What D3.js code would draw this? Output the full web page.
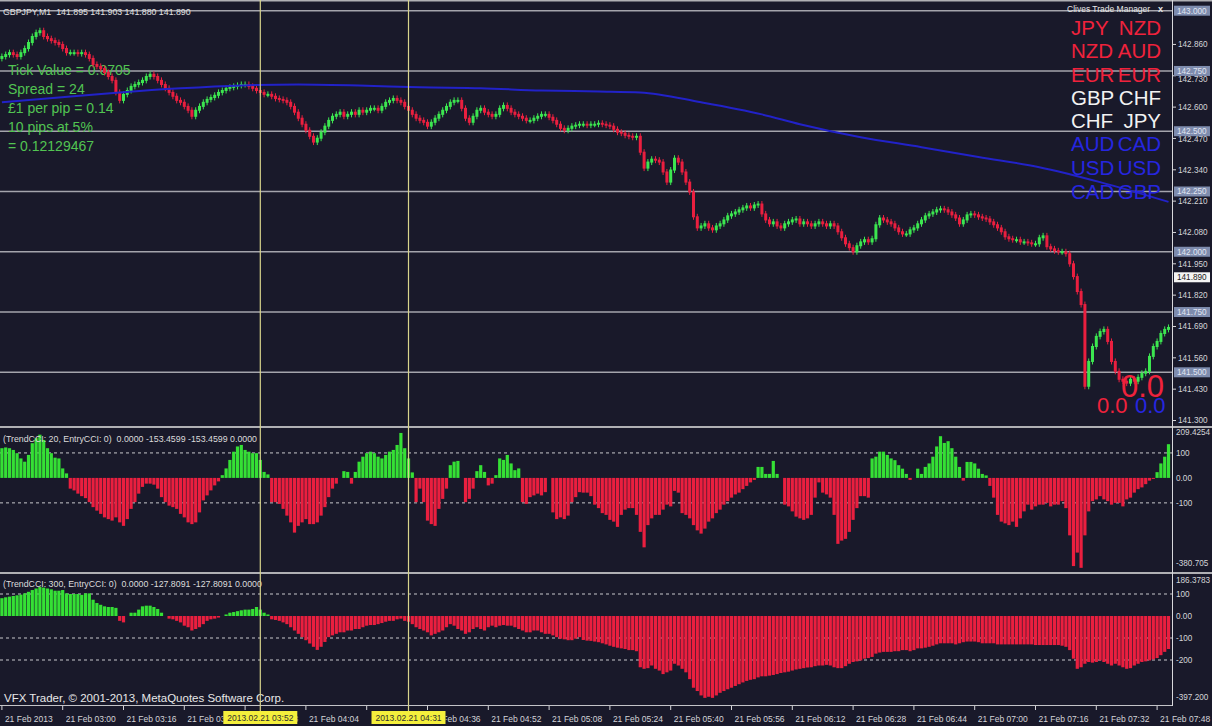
<!doctype html>
<html>
  <head>
    <title>GBPJPY,M1</title>
    <style>
      body { margin: 0; background: #19192a; }
      svg { display: block; font-family: "Liberation Sans", Arial, sans-serif; }
    </style>
  </head>
  <body>
    <svg id="chart" width="1212" height="726"></svg>

    <script src="https://d3js.org/d3.v7.min.js"></script>
    <script>
      // one-minute closes, 02:44 .. 07:51
      const closes = [
        142.810,142.818,142.826,142.818,142.810,142.826,142.843,142.868,142.893,142.909,
        142.917,142.893,142.884,142.876,142.868,142.860,142.843,142.826,142.826,142.826,
        142.822,142.826,142.818,142.802,142.777,142.769,142.760,142.744,142.727,142.711,
        142.661,142.628,142.653,142.669,142.686,142.694,142.702,142.711,142.727,142.736,
        142.727,142.711,142.694,142.678,142.661,142.645,142.628,142.620,142.603,142.587,
        142.562,142.587,142.603,142.620,142.632,142.640,142.649,142.661,142.669,142.678,
        142.682,142.686,142.690,142.694,142.694,142.686,142.678,142.669,142.661,142.653,
        142.653,142.645,142.636,142.632,142.628,142.620,142.603,142.579,142.554,142.529,
        142.504,142.479,142.455,142.471,142.496,142.521,142.545,142.562,142.570,142.579,
        142.562,142.570,142.579,142.570,142.587,142.579,142.587,142.595,142.595,142.587,
        142.603,142.620,142.628,142.636,142.628,142.620,142.603,142.587,142.570,142.554,
        142.545,142.537,142.521,142.537,142.554,142.570,142.587,142.603,142.620,142.628,
        142.628,142.595,142.554,142.537,142.562,142.587,142.595,142.579,142.570,142.562,
        142.570,142.595,142.607,142.595,142.579,142.570,142.562,142.554,142.545,142.545,
        142.554,142.562,142.570,142.570,142.558,142.545,142.529,142.512,142.504,142.512,
        142.521,142.525,142.529,142.529,142.525,142.529,142.529,142.533,142.529,142.525,
        142.521,142.508,142.496,142.492,142.483,142.479,142.475,142.479,142.413,142.347,
        142.372,142.384,142.380,142.372,142.331,142.289,142.339,142.388,142.372,142.331,
        142.289,142.248,142.145,142.099,142.107,142.116,142.099,142.091,142.107,142.116,
        142.132,142.149,142.157,142.165,142.174,142.182,142.190,142.182,142.194,142.198,
        142.157,142.132,142.116,142.124,142.107,142.099,142.116,142.124,142.132,142.136,
        142.116,142.124,142.116,142.107,142.116,142.124,142.116,142.107,142.116,142.107,
        142.083,142.058,142.033,142.017,142.000,142.025,142.041,142.050,142.041,142.054,
        142.112,142.140,142.132,142.124,142.116,142.099,142.083,142.074,142.074,142.091,
        142.099,142.116,142.132,142.149,142.157,142.165,142.174,142.178,142.174,142.165,
        142.153,142.140,142.116,142.132,142.153,142.157,142.153,142.145,142.140,142.136,
        142.124,142.112,142.099,142.083,142.062,142.054,142.050,142.050,142.041,142.041,
        142.037,142.033,142.033,142.058,142.066,142.021,142.012,142.004,142.000,142.000,
        141.992,141.950,141.897,141.835,141.781,141.442,141.545,141.607,141.649,141.669,
        141.678,141.628,141.545,141.504,141.471,141.463,141.455,141.471,141.463,141.479,
        141.496,141.504,141.566,141.607,141.628,141.661,141.678,141.686
      ];
      const firstOpen = 142.802;

      // moving average, read at a few bars
      const maBars = [0, 15, 31, 47, 63, 78, 94, 110, 126, 142, 157, 168, 184, 200, 210, 226, 242, 257, 273, 289, 307];
      const maPrices = [142.620, 142.640, 142.661, 142.678, 142.690, 142.694, 142.690, 142.682, 142.678, 142.669,
        142.665, 142.661, 142.620, 142.570, 142.529, 142.475, 142.434, 142.393, 142.351, 142.289, 142.207];

      const cci20 = [
        119,122,119,112,99,78,65,92,139,159,
        173,152,119,99,81,78,38,18,-43,-50,
        -63,-73,-81,-97,-117,-131,-144,-158,-165,-171,
        -158,-178,-192,-165,-124,-97,-63,-36,-23,-23,
        -27,-43,-77,-97,-111,-117,-124,-144,-158,-178,
        -185,-178,-138,-90,-70,-50,-30,-14,11,38,
        72,105,126,132,112,105,99,99,72,24,
        14,-97,-97,-104,-124,-151,-178,-219,-192,-178,
        -165,-185,-185,-178,-151,-117,-77,-43,-23,0,
        27,24,-23,24,65,85,99,105,99,85,
        78,92,105,112,132,180,119,78,22,-97,
        -43,-97,-171,-185,-192,-124,-84,-43,51,65,
        68,0,-97,-84,-43,27,51,24,-30,-23,
        11,78,72,92,58,31,38,-97,-104,-77,
        -70,-63,-70,-57,0,-138,-165,-158,-165,-151,
        -97,-77,-57,-59,-59,-73,-107,-121,-141,-148,
        -168,-175,-196,-148,-127,-121,-121,-148,-216,-278,
        -189,-162,-148,-148,-127,-107,-114,-52,-59,-141,
        -148,-162,-189,-210,-223,-203,-175,-162,-141,-127,
        -107,-93,-79,-66,-59,-45,-32,-18,-8,44,
        44,16,16,68,16,0,-107,-114,-134,-155,
        -162,-168,-162,-148,-79,-18,-59,-66,-79,-148,
        -264,-251,-244,-216,-168,-121,-73,-73,-79,78,
        85,105,105,92,78,71,51,37,16,-8,
        0,37,16,44,58,85,126,167,140,147,
        119,85,44,-11,64,64,58,37,16,10,
        -32,-79,-148,-175,-182,-189,-175,-196,-162,-134,
        -107,-127,-114,-107,-107,-100,-114,-107,-107,-93,
        -121,-230,-353,-299,-360,-230,-134,-93,-86,-73,
        -86,-93,-107,-100,-100,-114,-86,-79,-59,-45,
        -38,-25,-11,-4,23,58,85,135
      ];

      const cci300 = [
        81,85,88,91,94,97,103,110,118,125,
        132,129,125,121,115,115,118,103,100,100,
        100,96,103,103,74,59,51,44,41,41,
        37,-22,-29,0,15,15,29,44,47,47,
        41,32,15,0,-12,-15,-22,-29,-44,-51,
        -66,-59,-51,-37,-22,-15,-12,-7,0,7,
        15,18,22,26,29,29,32,41,29,15,
        7,-15,-18,-22,-29,-37,-51,-66,-81,-96,
        -110,-125,-140,-154,-140,-118,-96,-88,-81,-74,
        -74,-66,-66,-59,-59,-51,-44,-41,-41,-37,
        -32,-26,-22,-22,-15,-12,-22,-26,-37,-51,
        -59,-66,-74,-88,-81,-74,-66,-51,-37,-44,
        -59,-66,-81,-74,-59,-51,-59,-66,-51,-44,
        -51,-44,-41,-44,-44,-51,-59,-66,-74,-74,
        -66,-66,-74,-81,-81,-88,-96,-103,-106,-110,
        -110,-103,-96,-109,-112,-113,-116,-119,-124,-129,
        -135,-140,-144,-147,-150,-155,-155,-160,-233,-240,
        -237,-225,-240,-248,-264,-256,-248,-217,-225,-240,
        -256,-287,-326,-341,-361,-372,-367,-372,-361,-349,
        -341,-333,-326,-318,-310,-302,-295,-290,-287,-279,
        -274,-274,-271,-268,-264,-259,-256,-253,-248,-243,
        -240,-237,-234,-233,-228,-225,-225,-222,-225,-233,
        -237,-237,-228,-217,-209,-206,-202,-194,-191,-186,
        -171,-166,-163,-163,-163,-160,-160,-155,-155,-160,
        -155,-147,-147,-144,-140,-135,-129,-124,-124,-124,
        -124,-129,-124,-119,-116,-116,-116,-119,-124,-124,
        -124,-124,-129,-129,-129,-129,-129,-129,-129,-129,
        -129,-129,-132,-132,-132,-132,-132,-132,-132,-135,
        -140,-155,-194,-240,-233,-217,-209,-212,-209,-202,
        -209,-217,-225,-217,-225,-233,-240,-237,-225,-217,
        -209,-206,-202,-197,-191,-178,-163,-150
      ];

      const priceTicks = [142.860, 142.730, 142.600, 142.470, 142.340, 142.210, 142.080, 141.950, 141.820, 141.690, 141.560, 141.430, 141.300];
      const priceLevels = [143.000, 142.750, 142.500, 142.250, 142.000, 141.750, 141.500];
      const currentPrice = 141.890;

      const cci1Levels = [100, -100];
      const cci1Ticks = [100, 0, -100];
      const cci1TickText = ['100', '0.00', '-100'];
      const cci1Max = 209.4254, cci1Min = -380.705;
      const cci2Levels = [100, -100, -200];
      const cci2Ticks = [100, 0, -100, -200];
      const cci2TickText = ['100', '0.00', '-100', '-200'];
      const cci2Max = 186.3783, cci2Min = -397.200;

      const timeBars = [0, 16, 32, 48, 64, 80, 96, 112, 128, 144, 160, 176, 192, 208, 224, 240, 256, 272, 288, 304];
      const timeLabels = ['21 Feb 2013', '21 Feb 03:00', '21 Feb 03:16', '21 Feb 03:32', '21 Feb 03:48', '21 Feb 04:04',
        '21 Feb 04:20', '21 Feb 04:36', '21 Feb 04:52', '21 Feb 05:08', '21 Feb 05:24', '21 Feb 05:40', '21 Feb 05:56',
        '21 Feb 06:12', '21 Feb 06:28', '21 Feb 06:44', '21 Feb 07:00', '21 Feb 07:16', '21 Feb 07:32', '21 Feb 07:48'];
      const markerBars = [68, 107];
      const markerLabels = ['2013.02.21 03:52', '2013.02.21 04:31'];

      const infoLines = ['Tick Value = 0.0705', 'Spread = 24', '£1 per pip = 0.14', '10 pips at 5%', '= 0.12129467'];
      const pairsLeft = ['JPY', 'NZD', 'EUR', 'GBP', 'CHF', 'AUD', 'USD', 'CAD'];
      const pairsRight = ['NZD', 'AUD', 'EUR', 'CHF', 'JPY', 'CAD', 'USD', 'GBP'];
      const pairGroup = ['red', 'red', 'red', 'white', 'white', 'blue', 'blue', 'blue'];

      const BG = '#19192a';
      const BULL = '#3ce650';
      const BEAR = '#ea1f3f';
      const GRID = '#a4a4ac';
      const AXIS_TEXT = '#d4d4d8';
      const groupColor = { red: '#f0223c', white: '#f2f2f2', blue: '#2626e0' };

      const AXIS_X = 1172;
      const BOX_HALF = 37;
      const LABEL_W = 56;

      const x = d3.scaleLinear().domain([0, closes.length - 1]).range([1.9, 1168.5]);
      const yMain = d3.scaleLinear().domain([141.3, 143.0]).range([420.5, 10.7]);
      const yCci1 = d3.scaleLinear().domain([cci1Min, cci1Max]).range([573, 425.6]);
      const yCci2 = d3.scaleLinear().domain([cci2Min, cci2Max]).range([703.4, 575]);

      const svg = d3.select('#chart');
      svg.append('rect').attr('width', 1212).attr('height', 726).attr('fill', BG);

      const defs = svg.append('defs');
      defs.append('clipPath').attr('id', 'clip-main')
        .append('rect').attr('x', 0).attr('y', 2).attr('width', AXIS_X).attr('height', 423);
      defs.append('clipPath').attr('id', 'clip-cci1')
        .append('rect').attr('x', 0).attr('y', 429).attr('width', AXIS_X).attr('height', 142);
      defs.append('clipPath').attr('id', 'clip-cci2')
        .append('rect').attr('x', 0).attr('y', 575).attr('width', AXIS_X).attr('height', 130);

      // ---- main panel ----
      const gMain = svg.append('g').attr('clip-path', 'url(#clip-main)');

      gMain.selectAll('line.level')
        .data(priceLevels)
        .join('line')
        .attr('class', 'level')
        .attr('x1', 0).attr('x2', AXIS_X)
        .attr('y1', d => yMain(d)).attr('y2', d => yMain(d))
        .attr('stroke', GRID)
        .attr('stroke-width', 1.4);

      gMain.selectAll('text.info')
        .data(infoLines)
        .join('text')
        .attr('class', 'info')
        .attr('x', 8)
        .attr('y', (d, i) => 75 + i * 19)
        .attr('fill', '#52c452')
        .style('font-size', '14px')
        .text(d => d);

      const candles = closes.map((c, i) => ({ i, open: i === 0 ? firstOpen : closes[i - 1], close: c }));

      gMain.selectAll('line.wick')
        .data(candles)
        .join('line')
        .attr('class', 'wick')
        .attr('x1', d => x(d.i)).attr('x2', d => x(d.i))
        .attr('y1', d => yMain(Math.max(d.open, d.close)) - 3)
        .attr('y2', d => yMain(Math.min(d.open, d.close)) + 3)
        .attr('stroke', d => d.close >= d.open ? BULL : BEAR)
        .attr('stroke-width', 1);

      gMain.selectAll('rect.body')
        .data(candles)
        .join('rect')
        .attr('class', 'body')
        .attr('x', d => x(d.i) - 1.5)
        .attr('width', 3)
        .attr('y', d => yMain(Math.max(d.open, d.close)) - 0.5)
        .attr('height', d => Math.max(2, Math.abs(yMain(d.open) - yMain(d.close)) + 1))
        .attr('fill', d => d.close >= d.open ? BULL : BEAR);

      gMain.append('path')
        .datum(d3.zip(maBars, maPrices))
        .attr('d', d3.line().x(d => x(d[0])).y(d => yMain(d[1])).curve(d3.curveMonotoneX))
        .attr('fill', 'none')
        .attr('stroke', '#2222c8')
        .attr('stroke-width', 2);

      // trade manager block
      svg.append('text')
        .attr('x', 1067).attr('y', 12)
        .attr('fill', '#e6e6e6')
        .style('font-size', '8.5px')
        .text('Clives Trade Manager');
      svg.append('text')
        .attr('x', 1158).attr('y', 12)
        .attr('fill', '#e6e6e6')
        .style('font-size', '9px')
        .style('font-weight', 'bold')
        .text('x');

      const rowY = [35, 58, 82, 105, 128, 151, 175, 199];
      svg.append('g').selectAll('text')
        .data(pairsLeft)
        .join('text')
        .attr('x', 1071)
        .attr('y', (d, i) => rowY[i])
        .attr('fill', (d, i) => groupColor[pairGroup[i]])
        .style('font-size', '20.5px')
        .text(d => d);
      svg.append('g').selectAll('text')
        .data(pairsRight)
        .join('text')
        .attr('x', 1161)
        .attr('y', (d, i) => rowY[i])
        .attr('text-anchor', 'end')
        .attr('fill', (d, i) => groupColor[pairGroup[i]])
        .style('font-size', '20.5px')
        .text(d => d);

      svg.append('text').attr('x', 1121).attr('y', 397)
        .attr('fill', groupColor.red).style('font-size', '31px').text('0.0');
      svg.append('text').attr('x', 1097).attr('y', 413)
        .attr('fill', groupColor.red).style('font-size', '22px').text('0.0');
      svg.append('text').attr('x', 1135).attr('y', 413)
        .attr('fill', groupColor.blue).style('font-size', '22px').text('0.0');

      svg.append('text')
        .attr('x', 3).attr('y', 15)
        .attr('fill', '#e0e0e0')
        .style('font-size', '8.8px')
        .attr('xml:space', 'preserve')
        .text('GBPJPY,M1  141.895 141.903 141.880 141.890');

      // ---- indicator panels ----
      function drawCci(data, yScale, clipId, levels) {
        const g = svg.append('g').attr('clip-path', `url(#${clipId})`);
        g.selectAll('line')
          .data(levels)
          .join('line')
          .attr('x1', 0).attr('x2', AXIS_X)
          .attr('y1', d => yScale(d)).attr('y2', d => yScale(d))
          .attr('stroke', '#c8c8cc')
          .attr('stroke-dasharray', '3,3')
          .attr('stroke-width', 1);
        g.selectAll('rect')
          .data(data)
          .join('rect')
          .attr('x', (d, i) => x(i) - 1.6)
          .attr('width', 3.2)
          .attr('y', d => yScale(Math.max(0, d)))
          .attr('height', d => Math.abs(yScale(d) - yScale(0)))
          .attr('fill', d => d >= 0 ? '#35e035' : BEAR);
        return g;
      }
      drawCci(cci20, yCci1, 'clip-cci1', cci1Levels);
      drawCci(cci300, yCci2, 'clip-cci2', cci2Levels);

      svg.append('text').attr('x', 3).attr('y', 442)
        .attr('fill', '#dcdcdc').style('font-size', '8.8px')
        .attr('xml:space', 'preserve')
        .text('(TrendCCI: 20, EntryCCI: 0)  0.0000 -153.4599 -153.4599 0.0000');
      svg.append('text').attr('x', 3).attr('y', 587)
        .attr('fill', '#dcdcdc').style('font-size', '8.8px')
        .attr('xml:space', 'preserve')
        .text('(TrendCCI: 300, EntryCCI: 0)  0.0000 -127.8091 -127.8091 0.0000');

      svg.append('text').attr('x', 4).attr('y', 702)
        .attr('fill', '#e8e8e8').style('font-size', '11.5px')
        .text('VFX Trader, © 2001-2013, MetaQuotes Software Corp.');

      // panel frames
      [[0, 1.5], [426, 2], [572, 2]].forEach(([yy, w]) => {
        svg.append('rect').attr('x', 0).attr('y', yy).attr('width', 1212).attr('height', w).attr('fill', '#b0b0b4');
      });
      svg.append('line')
        .attr('x1', 0).attr('x2', AXIS_X + 0.5).attr('y1', 705.5).attr('y2', 705.5)
        .attr('stroke', '#c4c4c8');
      svg.append('line')
        .attr('x1', AXIS_X + 0.5).attr('x2', AXIS_X + 0.5).attr('y1', 0).attr('y2', 706)
        .attr('stroke', '#d8d8dc');

      // marker lines
      svg.append('g').selectAll('line')
        .data(markerBars)
        .join('line')
        .attr('x1', d => x(d)).attr('x2', d => x(d))
        .attr('y1', 0).attr('y2', 711)
        .attr('stroke', '#d8d48c')
        .attr('stroke-width', 1.2);

      // ---- price axis ----
      const fmt3 = d3.format('.3f');
      const gPrice = svg.append('g').style('font-size', '8.2px');
      gPrice.selectAll('line')
        .data(priceTicks)
        .join('line')
        .attr('x1', AXIS_X).attr('x2', AXIS_X + 4)
        .attr('y1', d => yMain(d)).attr('y2', d => yMain(d))
        .attr('stroke', AXIS_TEXT);
      // a tick label sitting under a level box only shows its lower edge
      gPrice.selectAll('text.tick')
        .data(priceTicks)
        .join('text')
        .attr('class', 'tick')
        .attr('x', AXIS_X + 6)
        .attr('y', d => {
          const hit = priceLevels.find(l => Math.abs(yMain(l) - yMain(d)) < 8);
          return hit === undefined ? yMain(d) : yMain(hit) + 8;
        })
        .attr('dy', '0.35em')
        .attr('fill', AXIS_TEXT)
        .text(d => fmt3(d));

      const gLevels = gPrice.selectAll('g.lvl')
        .data(priceLevels)
        .join('g')
        .attr('class', 'lvl')
        .attr('transform', d => `translate(${AXIS_X + 2},${Math.max(8, yMain(d))})`);
      gLevels.append('rect')
        .attr('x', 0).attr('y', -5).attr('width', 36).attr('height', 10)
        .attr('fill', '#7e8cae');
      gLevels.append('text')
        .attr('x', 3).attr('dy', '0.35em')
        .attr('fill', '#e2e6f2')
        .text(d => fmt3(d));

      const gCur = gPrice.append('g')
        .attr('transform', `translate(${AXIS_X + 2},${yMain(currentPrice) - 1})`);
      gCur.append('rect').attr('x', 0).attr('y', -5).attr('width', 36).attr('height', 10).attr('fill', '#f4f4f4');
      gCur.append('text').attr('x', 3).attr('dy', '0.35em').attr('fill', '#202020').text(fmt3(currentPrice));

      // ---- indicator axes ----
      function cciAxis(yScale, ticks, tickText, maxText, maxY, minText, minY) {
        const g = svg.append('g').style('font-size', '8.2px').attr('fill', AXIS_TEXT);
        g.selectAll('text.t')
          .data(ticks)
          .join('text')
          .attr('class', 't')
          .attr('x', AXIS_X + 4)
          .attr('y', d => yScale(d))
          .attr('dy', '0.35em')
          .text((d, i) => tickText[i]);
        g.append('text').attr('x', AXIS_X + 4).attr('y', maxY).attr('dy', '0.35em').text(maxText);
        g.append('text').attr('x', AXIS_X + 4).attr('y', minY).attr('dy', '0.35em').text(minText);
      }
      cciAxis(yCci1, cci1Ticks, cci1TickText, '209.4254', 432, '-380.705', 563);
      cciAxis(yCci2, cci2Ticks, cci2TickText, '186.3783', 580, '-397.200', 697);

      // ---- time axis ----
      // labels that run under a marker box only show the part outside it
      const gTime = svg.append('g').style('font-size', '8.5px');
      gTime.selectAll('line')
        .data(timeBars)
        .join('line')
        .attr('x1', d => x(d)).attr('x2', d => x(d))
        .attr('y1', 706).attr('y2', 710)
        .attr('stroke', AXIS_TEXT);

      timeBars.forEach((b, i) => {
        const left = x(b) + 3;
        let vl = left, vr = left + LABEL_W;
        markerBars.forEach(m => {
          const bl = x(m) - BOX_HALF, br = x(m) + BOX_HALF;
          if (bl <= vl && br > vl) vl = br;
          if (bl < vr && br >= vr) vr = bl;
        });
        if (vr - vl < 2) return;
        const id = `tclip-${i}`;
        defs.append('clipPath').attr('id', id)
          .append('rect').attr('x', vl).attr('y', 708).attr('width', vr - vl).attr('height', 18);
        gTime.append('text')
          .attr('x', left)
          .attr('y', 722)
          .attr('fill', AXIS_TEXT)
          .attr('clip-path', `url(#${id})`)
          .text(timeLabels[i]);
      });

      const gMark = svg.append('g').style('font-size', '8.5px')
        .selectAll('g')
        .data(markerBars)
        .join('g')
        .attr('transform', d => `translate(${x(d)},0)`);
      gMark.append('rect')
        .attr('x', -BOX_HALF).attr('y', 711).attr('width', BOX_HALF * 2).attr('height', 13)
        .attr('fill', '#f4ef3c');
      gMark.append('text')
        .attr('y', 721)
        .attr('text-anchor', 'middle')
        .attr('fill', '#303030')
        .text((d, i) => markerLabels[i]);
    </script>
  </body>
</html>
